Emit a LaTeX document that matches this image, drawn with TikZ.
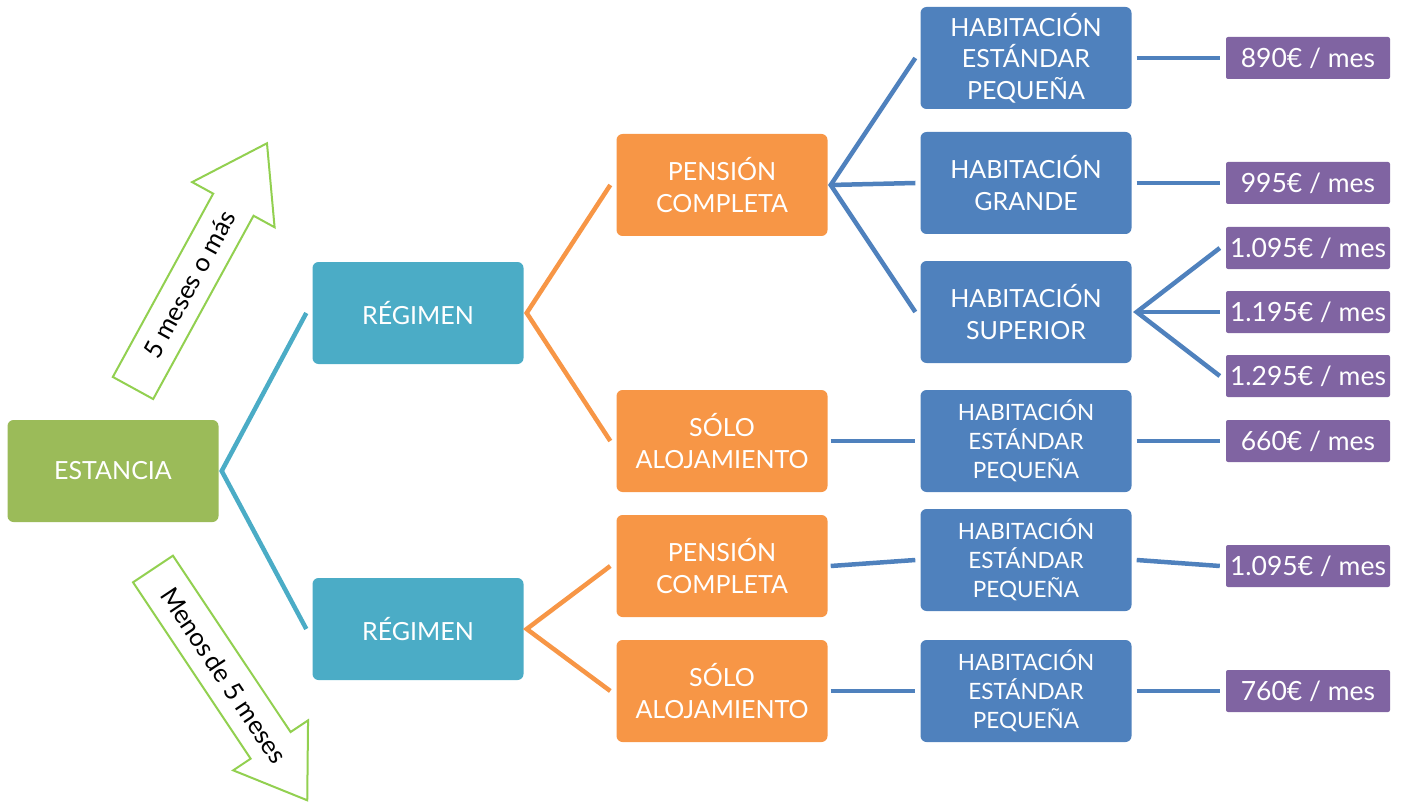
\documentclass[tikz,border=0pt]{standalone}
\usepackage{fontspec}
\setmainfont{Lato}
\definecolor{cgreen}{HTML}{9BBB59}
\definecolor{cteal}{HTML}{4BACC6}
\definecolor{corange}{HTML}{F79646}
\definecolor{cblue}{HTML}{4F81BD}
\definecolor{cpurple}{HTML}{8064A2}
\definecolor{carrow}{HTML}{92D050}
\begin{document}
\begin{tikzpicture}[x=1pt,y=-1pt,
  box/.style={rounded corners=6pt, text=white, align=center, inner sep=0pt,
    minimum width=211pt, minimum height=102pt, font=\fontsize{25}{31.5}\selectfont},
  smallbox/.style={box, font=\fontsize{22.5}{29}\selectfont},
  price/.style={fill=cpurple, rounded corners=2pt, text=white, inner sep=0pt,
    minimum width=164pt, minimum height=42pt, font=\fontsize{26.5}{30}\selectfont},
  conn/.style={line width=4.5pt},
  blockarrow/.style={draw=carrow, line width=2pt, fill=white, line join=miter},
  arrowtext/.style={font=\fontsize{25.5}{29}\selectfont, text=black, inner sep=0pt}
]
\useasboundingbox (0,0) rectangle (1403,805);

% block arrows
\begin{scope}[shift={(133,388)}, rotate=61.3]
  \draw[blockarrow] (0,-23) -- (209,-23) -- (209,-47) -- (279,0) -- (209,47) -- (209,23) -- (0,23) -- cycle;
  \node[arrowtext, rotate=61.3] (up) at (118,0) {5 meses o más};
\end{scope}
\begin{scope}[shift={(153,569)}, rotate=-56.3]
  \draw[blockarrow] (0,-24) -- (212,-24) -- (212,-45) -- (278,0) -- (212,45) -- (212,24) -- (0,24) -- cycle;
  \node[arrowtext, rotate=-56.3] (down) at (128,0) {Menos\hspace{0.12em}de 5 meses};
\end{scope}

% nodes
\node[box, fill=cgreen] (est) at (113,471) {ESTANCIA};
\node[box, fill=cteal] (reg1) at (418,313) {RÉGIMEN};
\node[box, fill=cteal] (reg2) at (418,629) {RÉGIMEN};
\node[box, fill=corange] (pc1) at (722,185) {PENSIÓN\\COMPLETA};
\node[box, fill=corange] (sa1) at (722,441) {SÓLO\\ALOJAMIENTO};
\node[box, fill=corange] (pc2) at (722,566) {PENSIÓN\\COMPLETA};
\node[box, fill=corange] (sa2) at (722,691) {SÓLO\\ALOJAMIENTO};

\node[box, fill=cblue] (h1) at (1026,58) {HABITACIÓN\\ESTÁNDAR\\PEQUEÑA};
\node[box, fill=cblue] (h2) at (1026,183) {HABITACIÓN\\GRANDE};
\node[box, fill=cblue] (h3) at (1026,312) {HABITACIÓN\\SUPERIOR};
\node[smallbox, fill=cblue] (h4) at (1026,441) {HABITACIÓN\\ESTÁNDAR\\PEQUEÑA};
\node[smallbox, fill=cblue] (h5) at (1026,560) {HABITACIÓN\\ESTÁNDAR\\PEQUEÑA};
\node[smallbox, fill=cblue] (h6) at (1026,691) {HABITACIÓN\\ESTÁNDAR\\PEQUEÑA};

\node[price] (p1) at (1308,58) {890€ / mes};
\node[price] (p2) at (1308,183) {995€ / mes};
\node[price] (p3) at (1308,248) {1.095€ / mes};
\node[price] (p4) at (1308,312) {1.195€ / mes};
\node[price] (p5) at (1308,376) {1.295€ / mes};
\node[price] (p6) at (1308,441) {660€ / mes};
\node[price] (p7) at (1308,566) {1.095€ / mes};
\node[price] (p8) at (1308,691) {760€ / mes};

% connectors
\draw[conn, cteal] ([xshift=-6pt]reg1.west) -- ([xshift=3pt]est.east) -- ([xshift=-6pt]reg2.west);
\draw[conn, corange] ([xshift=-6pt]pc1.west) -- ([xshift=3pt]reg1.east) -- ([xshift=-6pt]sa1.west);
\draw[conn, corange] ([xshift=-6pt]pc2.west) -- ([xshift=3pt]reg2.east) -- ([xshift=-6pt]sa2.west);
\draw[conn, cblue] ([xshift=-5pt]h1.west) -- ([xshift=3pt]pc1.east) -- ([xshift=-5pt]h3.west);
\draw[conn, cblue] ([xshift=3pt]pc1.east) -- ([xshift=-5pt]h2.west);
\draw[conn, cblue] ([xshift=3pt]sa1.east) -- ([xshift=-5pt]h4.west);
\draw[conn, cblue] ([xshift=3pt]pc2.east) -- ([xshift=-5pt]h5.west);
\draw[conn, cblue] ([xshift=3pt]sa2.east) -- ([xshift=-5pt]h6.west);
\draw[conn, cblue] ([xshift=5pt]h1.east) -- ([xshift=-6pt]p1.west);
\draw[conn, cblue] ([xshift=5pt]h2.east) -- ([xshift=-6pt]p2.west);
\draw[conn, cblue] ([xshift=-6pt]p3.west) -- ([xshift=5pt]h3.east) -- ([xshift=-6pt]p5.west);
\draw[conn, cblue] ([xshift=5pt]h3.east) -- ([xshift=-6pt]p4.west);
\draw[conn, cblue] ([xshift=5pt]h4.east) -- ([xshift=-6pt]p6.west);
\draw[conn, cblue] ([xshift=5pt]h5.east) -- ([xshift=-6pt]p7.west);
\draw[conn, cblue] ([xshift=5pt]h6.east) -- ([xshift=-6pt]p8.west);
\end{tikzpicture}
\end{document}
